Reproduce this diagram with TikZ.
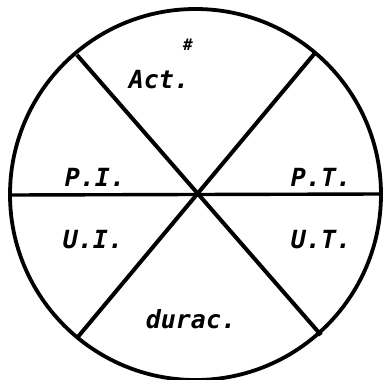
\documentclass[tikz,border=0pt]{standalone}
\usepackage{fontspec}
\setmainfont{DejaVu Sans Mono}
\begin{document}
\begin{tikzpicture}[x=1pt,y=-1pt,
  rim/.style={line width=3.8pt},
  spoke/.style={line width=4pt},
  lbl/.style={font=\fontsize{25}{25}\selectfont\bfseries\itshape, inner sep=0pt, anchor=center},
]
\useasboundingbox (0,0) rectangle (383,380);
\coordinate (c) at (195.5,194.5);
\draw[rim] (c) circle[radius=185.5];
\coordinate (ul) at (77,55);
\coordinate (lr) at (321,335);
\coordinate (ur) at (315,53);
\coordinate (ll) at (77,338);
\coordinate (hl) at (10,195);
\coordinate (hr) at (381,194);
\draw[spoke] (ul) -- (lr);
\draw[spoke] (ur) -- (ll);
\draw[line width=3.4pt] (hl) -- (hr);
\node[lbl] (act) at (159,80) {Act.};
\node[font=\fontsize{16}{16}\selectfont\bfseries\itshape, inner sep=0pt] (hash) at (188,45) {\#};
\node[lbl] (pi) at (95,177) {P.I.};
\node[lbl] (pt) at (321,177) {P.T.};
\node[lbl] (ui) at (93,240) {U.I.};
\node[lbl] (ut) at (321,240) {U.T.};
\node[lbl, anchor=base] (dur) at (191,328) {durac.};
\end{tikzpicture}
\end{document}
